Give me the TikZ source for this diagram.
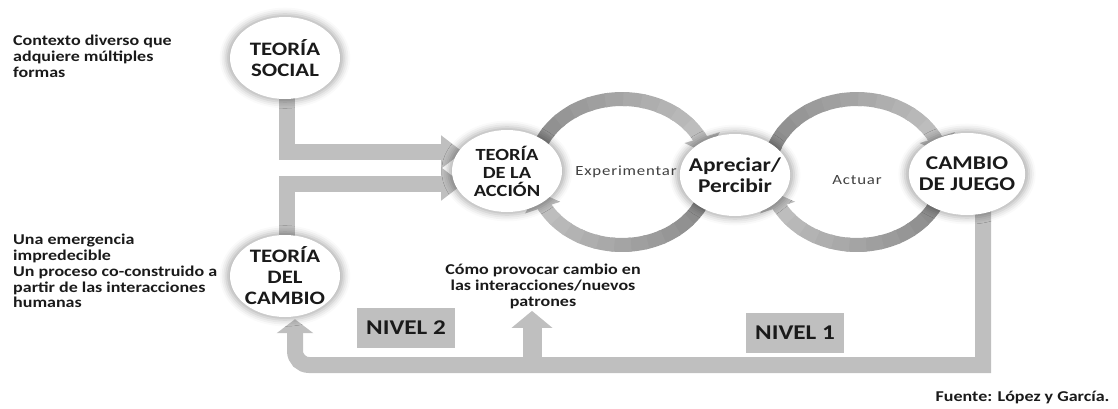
\documentclass[tikz,border=0pt]{standalone}
\usepackage{fontspec}
\setmainfont{Carlito}[FakeStretch=1.2]
\usetikzlibrary{arrows.meta,shapes.geometric,shadows.blur,calc}
\definecolor{bargray}{HTML}{BFBFBF}
\definecolor{txt}{HTML}{1A1A1A}
\pgfdeclarelayer{bg}
\pgfsetlayers{bg,main}
\begin{document}
\begin{tikzpicture}[x=1pt,y=1pt,
  bub/.style={ellipse, fill=white, minimum width=110pt, minimum height=82pt, inner sep=-7pt, align=center, text=txt,
     font=\bfseries\fontsize{19}{21}\selectfont,
     blur shadow={shadow xshift=0pt,shadow yshift=0pt,shadow scale=1.07,shadow blur radius=6pt,shadow opacity=30}},
  bar/.style={draw=bargray, line width=16pt},
  nivel/.style={fill=bargray, minimum width=98pt, minimum height=40pt, text=txt, font=\bfseries\fontsize{21}{24}\selectfont},
  side/.style={align=left, text=txt, font=\bfseries\fontsize{15}{15.8}\selectfont, inner sep=0pt},
]
\useasboundingbox (0,0) rectangle (1118,408);

% bubbles
\node[bub] (ts) at (285,350) {TEORÍA\\SOCIAL};
\node[bub, font=\bfseries\fontsize{17}{18}\selectfont] (ta) at (507,237) {TEORÍA\\DE LA\\ACCIÓN};
\node[bub, font=\bfseries\fontsize{19.5}{21}\selectfont] (ap) at (735,233) {Apreciar/\\Percibir};
\node[bub, font=\bfseries\fontsize{19.5}{21}\selectfont] (cj) at (967,234) {CAMBIO\\DE JUEGO};
\node[bub] (tc) at (285,132) {TEORÍA\\DEL\\CAMBIO};

% ring centres
\coordinate (r1) at (622,236);
\coordinate (r2) at (857,236);

% texts
\node[side, anchor=north west] (ctx) at (13,373) {Contexto diverso que\\adquiere múltiples\\formas};
\node[side, anchor=north west] (emg) at (13,174) {Una emergencia\\impredecible\\Un proceso co-construido a\\partir de las interacciones\\humanas};
\node[side, align=center, anchor=north, inner sep=2pt] (como) at (543,146) {Cómo provocar cambio en\\las interacciones/nuevos\\patrones};
\node[text=txt, font=\bfseries\fontsize{15}{16}\selectfont, anchor=east] (src) at (1113,11) {Fuente: López y García.};
\node[text=black!75, font=\fontsize{14}{15}\selectfont\addfontfeatures{LetterSpace=6}] (exp) at (626,236) {Experimentar};
\node[text=black!75, font=\fontsize{14}{15}\selectfont\addfontfeatures{LetterSpace=6}] (act) at (857,228) {Actuar};
\node[nivel] (n2) at (406,80) {NIVEL 2};
\node[nivel] (n1) at (795,75) {NIVEL 1};

\begin{pgfonlayer}{bg}
% cycle rings
\foreach \cc/\sa/\ea in {r1/172/30, r1/-18/-150, r2/172/30, r2/-18/-150} {
  \foreach \i in {0,...,11} {
    \pgfmathsetmacro\aa{\sa+(\ea-\sa)*\i/12}
    \pgfmathsetmacro\ab{\sa+(\ea-\sa)*(\i+1.2)/12}
    \pgfmathsetmacro\pc{47-21*\i/11}
    \draw[line width=14pt, draw=black!\pc] ($(\cc)+(\aa:88 and 73)$) arc[start angle=\aa, end angle=\ab, x radius=88, y radius=73];
  }
  \pgfmathsetmacro\ax{\ea+(\ea-\sa)*0.11}
  \draw[line width=14pt, draw=black!26, -{Triangle[length=17pt,width=36pt]}] ($(\cc)+(\ea:88 and 73)$) arc[start angle=\ea, end angle=\ax, x radius=88, y radius=73];
}
% feeding bars
\draw[bar, -{Triangle[length=22pt,width=32pt]}] ($(ts.south)+(2,5)$) |- ($(ta.center)+(-44,19)$);
\draw[bar, -{Triangle[length=22pt,width=32pt]}] ($(tc.north)+(2,-5)$) |- ($(ta.center)+(-44,-13)$);
% feedback
\draw[bar, -{Triangle[length=14pt,width=36pt]}] ($(cj.south)+(16,5)$) |- (600,43) [rounded corners=14pt] -| ($(tc.south)+(10,-2)$);
\coordinate (br) at (532,43);
\draw[bar, line width=19pt, -{Triangle[length=17pt,width=40pt]}] (br) -- (br |- como.south);
\end{pgfonlayer}
\end{tikzpicture}
\end{document}
